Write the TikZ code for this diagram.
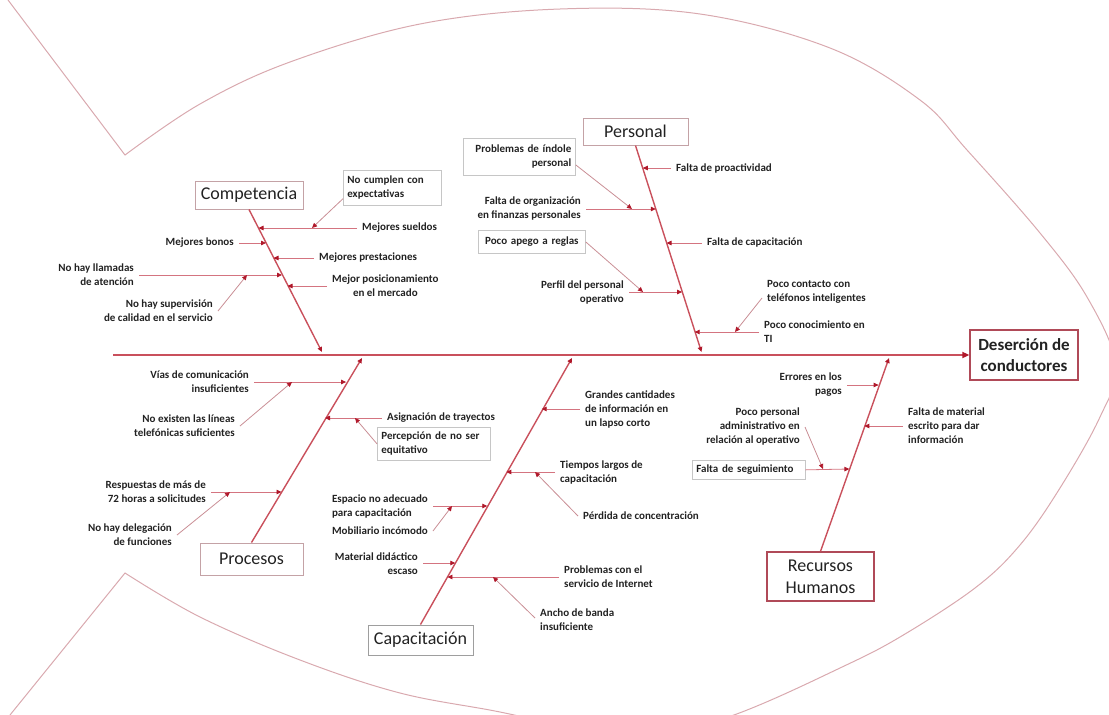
\documentclass[tikz,border=0pt]{standalone}
\usepackage{fontspec}
\setmainfont{Carlito}
\usetikzlibrary{arrows.meta,calc}
\definecolor{bonecol}{HTML}{C9505C}
\definecolor{twigcol}{HTML}{D47480}
\definecolor{subcol}{HTML}{C98E95}
\definecolor{tipred}{HTML}{B0182A}
\definecolor{fishline}{HTML}{D9A9AF}
\definecolor{ink}{HTML}{222222}
\definecolor{hdrframe}{HTML}{C4A2A6}
\definecolor{effframe}{HTML}{B04A58}
\definecolor{noteframe}{HTML}{C6C6C6}
\begin{document}
\begin{tikzpicture}[x=1pt,y=-1pt,
  every node/.style={text=ink},
  lbl/.style={font=\bfseries\fontsize{11}{14}\selectfont, inner xsep=5pt, inner ysep=1pt},
  note/.style={lbl, draw=noteframe, line width=0.7pt, inner xsep=4pt, inner ysep=3pt},
  hdr/.style={draw=hdrframe, line width=1pt, font=\fontsize{18}{22}\selectfont, inner sep=0pt, align=center},
  effect/.style={draw=effframe, line width=1.3pt, font=\bfseries\fontsize{17}{21}\selectfont, inner sep=0pt, align=center},
  tip/.style={-{Triangle[length=5pt,width=4.5pt,color=tipred]}},
  twig/.style={draw=twigcol, line width=0.8pt, tip},
  subtwig/.style={draw=subcol, line width=0.8pt, tip},
  bonestyle/.style={draw=bonecol, line width=1.4pt, tip},
  spinestyle/.style={draw=bonecol, line width=2.4pt, -{Triangle[length=7pt,width=6pt,color=tipred]}}
]
\useasboundingbox (0,0) rectangle (1109,715);
\clip (0,0) rectangle (1109,715);

% fish outline
\draw[fishline, line width=1pt] (8,0) -- plot[smooth, tension=0.6] coordinates {(125,155) (200,104) (290,62) (420,24) (560,9) (700,14) (830,48) (920,100) (967,150) (1040,233) (1087,297) (1116,365) (1100,417) (1060,488) (1020,545) (975,588) (900,637) (840,668) (742,712) (640,745)};
\draw[fishline, line width=1pt] (10,715) -- plot[smooth, tension=0.6] coordinates {(125,573) (200,617) (300,660) (400,693) (500,712) (580,730)};

% head and spine
\node[effect, minimum width=108pt, minimum height=50pt] (effect) at (1024,355) {Deserción de\\conductores};
\coordinate (spineL) at (113,355);
\draw[spinestyle] (spineL) -- (effect.west);

% ---------------- Competencia
\node[hdr, minimum width=108pt, minimum height=28pt] (comp) at (249,195) {Competencia};
\coordinate (compEnd) at (322,352);
\draw[bonestyle] (comp.south) -- (compEnd);
\coordinate (cb1) at (258.5,228);
\coordinate (cb2) at (266,243);
\coordinate (cb3) at (273.5,258);
\coordinate (cb4) at (282,275);
\coordinate (cb5) at (287.5,286);
\node[lbl, anchor=west] (sueldos) at (357,228) {Mejores sueldos};
\node[lbl, anchor=east] (bonos) at (239,243) {Mejores bonos};
\node[lbl, anchor=west] (prest) at (314,258) {Mejores prestaciones};
\node[lbl, anchor=east, align=right] (llamadas) at (139,275) {No hay llamadas\\de atención};
\node[lbl, anchor=east, align=right] (superv) at (218,311) {No hay supervisión\\de calidad en el servicio};
\node[lbl, anchor=west, align=center] (mercado) at (327,286) {Mejor posicionamiento\\en el mercado};
\node[note, anchor=north west, text width=90pt, minimum height=35pt, align=left] (nocumplen) at (343,170) {No cumplen con\\expectativas};
\draw[twig] (sueldos.west) -- (cb1);
\draw[twig] (bonos.east) -- (cb2);
\draw[twig] (prest.west) -- (cb3);
\draw[twig] (llamadas.east) -- (cb4);
\draw[twig] (mercado.west) -- (cb5);
\coordinate (cs1) at (312,228);
\coordinate (cs2) at (247,275);
\draw[subtwig] ([yshift=7pt]nocumplen.south west) -- (cs1);
\draw[subtwig] (superv.east) -- (cs2);

% ---------------- Personal
\node[hdr, minimum width=105pt, minimum height=27pt] (pers) at (635.5,131.5) {Personal};
\coordinate (persEnd) at (701.5,352);
\draw[bonestyle] (pers.south) -- (persEnd);
\coordinate (pb1) at (642.8,168);
\coordinate (pb2) at (655.8,209);
\coordinate (pb3) at (666.5,243);
\coordinate (pb4) at (682.1,292);
\coordinate (pb5) at (694.7,332);
\node[lbl, anchor=west] (proact) at (671,168) {Falta de proactividad};
\node[lbl, anchor=east, align=right] (organiz) at (586,209) {Falta de organización\\en finanzas personales};
\node[lbl, anchor=west] (capac) at (702,243) {Falta de capacitación};
\node[lbl, anchor=east, align=right] (perfil) at (629,292) {Perfil del personal\\operativo};
\node[lbl, anchor=west, align=left] (contacto) at (762,292) {Poco contacto con\\teléfonos inteligentes};
\node[lbl, anchor=west, align=left] (conoc) at (759,332) {Poco conocimiento en\\TI};
\node[note, anchor=north west, text width=104pt, minimum height=37pt, align=right] (indole) at (463,138) {Problemas de índole\\personal};
\node[note, anchor=north west, text width=99pt, minimum height=23pt, align=center] (apego) at (478,230) {Poco apego a reglas};
\draw[twig] (proact.west) -- (pb1);
\draw[twig] (organiz.east) -- (pb2);
\draw[twig] (capac.west) -- (pb3);
\draw[twig] (perfil.east) -- (pb4);
\draw[twig] (conoc.west) -- (pb5);
\coordinate (ps1) at (632,209);
\coordinate (ps2) at (643,292);
\coordinate (ps3) at (735,332);
\draw[subtwig] ([yshift=-8pt]indole.east) -- (ps1);
\draw[subtwig] (apego.east) -- (ps2);
\draw[subtwig] ([yshift=-6pt]contacto.west) -- (ps3);

% ---------------- Recursos Humanos
\node[effect, font=\fontsize{18}{22}\selectfont, minimum width=107pt, minimum height=49pt] (rrhh) at (820.5,576.5) {Recursos\\Humanos};
\coordinate (rrhhEnd) at (889,358);
\draw[bonestyle] (rrhh.north) -- (rrhhEnd);
\coordinate (rb1) at (878.6,385);
\coordinate (rb2) at (864.3,426);
\coordinate (rb3) at (849.4,469);
\node[lbl, anchor=east, align=right] (errores) at (847,385) {Errores en los\\pagos};
\node[lbl, anchor=west, align=left] (materialE) at (903,426) {Falta de material\\escrito para dar\\información};
\node[lbl, anchor=east, align=right] (pocoper) at (805,427) {Poco personal\\administrativo en\\relación al operativo};
\node[note, anchor=north west, text width=105pt, minimum height=19pt, align=left] (seguim) at (692,460) {Falta de seguimiento};
\draw[twig] (errores.east) -- (rb1);
\draw[twig] (materialE.west) -- (rb2);
\draw[twig] (seguim.east) -- (rb3);
\coordinate (rs1) at (823,469);
\draw[subtwig] (pocoper.east) -- (rs1);

% ---------------- Procesos
\node[hdr, minimum width=103pt, minimum height=32pt] (proc) at (251.5,559) {Procesos};
\coordinate (procEnd) at (362,358);
\draw[bonestyle] (proc.north) -- (procEnd);
\coordinate (qb1) at (346.1,382);
\coordinate (qb2) at (325,418);
\coordinate (qb3) at (281.5,492);
\node[lbl, anchor=east, align=right] (vias) at (254,382) {Vías de comunicación\\insuficientes};
\node[lbl, anchor=east, align=right] (lineas) at (240,426) {No existen las líneas\\telefónicas suficientes};
\node[lbl, anchor=west] (asign) at (382,418) {Asignación de trayectos};
\node[note, anchor=north west, text width=105pt, minimum height=33pt, align=left] (percep) at (377,427) {Percepción de no ser\\equitativo};
\node[lbl, anchor=east, align=right] (respuestas) at (211,492) {Respuestas de más de\\72 horas a solicitudes};
\node[lbl, anchor=east, align=right] (delega) at (177,535) {No hay delegación\\de funciones};
\draw[twig] (vias.east) -- (qb1);
\draw[twig] (asign.west) -- (qb2);
\draw[twig] (respuestas.east) -- (qb3);
\coordinate (qs1) at (292,382);
\coordinate (qs2) at (355,418);
\coordinate (qs3) at (230,492);
\draw[subtwig] (lineas.east) -- (qs1);
\draw[subtwig] (percep.west) -- (qs2);
\draw[subtwig] (delega.east) -- (qs3);

% ---------------- Capacitación
\node[hdr, draw=noteframe!80!black, minimum width=105pt, minimum height=30pt] (capn) at (420.5,640) {Capacitación};
\coordinate (capEnd) at (572,358);
\draw[bonestyle] (capn.north) -- (capEnd);
\coordinate (kb1) at (541.7,409);
\coordinate (kb2) at (506.3,472);
\coordinate (kb3) at (487.3,506);
\coordinate (kb4) at (455.3,563);
\coordinate (kb5) at (447.4,577);
\node[lbl, anchor=west, align=left] (grandes) at (580,409) {Grandes cantidades\\de información en\\un lapso corto};
\node[lbl, anchor=west, align=left] (tiempos) at (555,472) {Tiempos largos de\\capacitación};
\node[lbl, anchor=west] (perdida) at (578,516) {Pérdida de concentración};
\node[lbl, anchor=east, align=left] (espacio) at (433,506) {Espacio no adecuado\\para capacitación};
\node[lbl, anchor=east] (mobil) at (433,531) {Mobiliario incómodo};
\node[lbl, anchor=east, align=right] (didact) at (423,564) {Material didáctico\\escaso};
\node[lbl, anchor=west, align=left] (internet) at (559,577) {Problemas con el\\servicio de Internet};
\node[lbl, anchor=west, align=left] (ancho) at (535,620) {Ancho de banda\\insuficiente};
\draw[twig] (grandes.west) -- (kb1);
\draw[twig] (tiempos.west) -- (kb2);
\draw[twig] (espacio.east) -- (kb3);
\draw[twig] ([yshift=1pt]didact.east) -- (kb4);
\draw[twig] (internet.west) -- (kb5);
\coordinate (ks1) at (535,472);
\coordinate (ks2) at (452,506);
\coordinate (ks3) at (493,577);
\draw[subtwig] (perdida.west) -- (ks1);
\draw[subtwig] (mobil.east) -- (ks2);
\draw[subtwig] ([yshift=2pt]ancho.west) -- (ks3);
\end{tikzpicture}
\end{document}
